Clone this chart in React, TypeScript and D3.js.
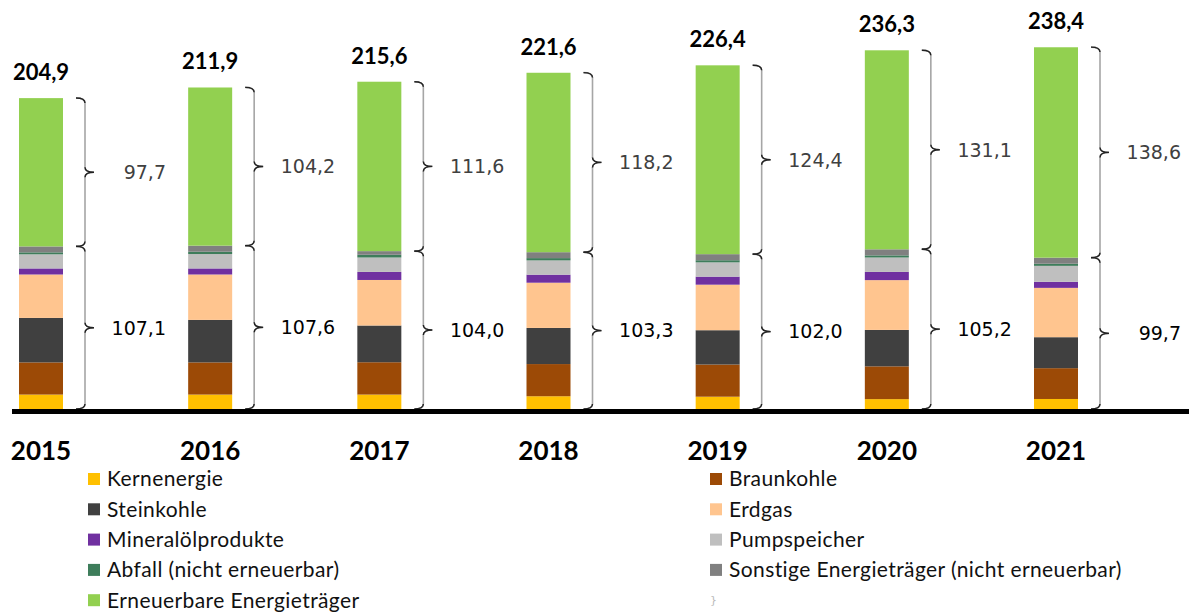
import React from "react";
import * as d3 from "d3";

const years = ["2015", "2016", "2017", "2018", "2019", "2020", "2021"];

const sources = [
  "Kernenergie",
  "Braunkohle",
  "Steinkohle",
  "Erdgas",
  "Mineralölprodukte",
  "Pumpspeicher",
  "Abfall (nicht erneuerbar)",
  "Sonstige Energieträger (nicht erneuerbar)",
  "Erneuerbare Energieträger",
];

const colors = ["#FFC000", "#9C4A06", "#404040", "#FFC58F", "#7030A0", "#BFBFBF", "#3E7D5B", "#808080", "#92D050"];

// GW per year, bottom to top
const kernenergie = [9.5, 9.5, 9.5, 8.4, 8.1, 6.5, 6.6];
const braunkohle = [21.2, 21.2, 21.3, 21.2, 21.2, 21.6, 20.3];
const steinkohle = [29.3, 28.0, 24.2, 23.8, 22.6, 24.0, 20.4];
const erdgas = [28.6, 29.9, 30.0, 29.8, 30.0, 32.8, 32.5];
const mineraloel = [4.0, 4.0, 5.3, 5.3, 5.3, 5.4, 4.0];
const pumpspeicher = [9.3, 9.5, 9.5, 9.4, 9.4, 9.5, 10.5];
const abfall = [1.3, 1.5, 1.8, 1.5, 1.4, 1.4, 1.4];
const sonstige = [3.9, 4.0, 2.4, 3.9, 4.0, 4.0, 4.0];
const erneuerbare = [97.7, 104.2, 111.6, 118.2, 124.4, 131.1, 138.6];

const konventionell = [107.1, 107.6, 104.0, 103.3, 102.0, 105.2, 99.7];
const gesamt = [204.9, 211.9, 215.6, 221.6, 226.4, 236.3, 238.4];

const series = [kernenergie, braunkohle, steinkohle, erdgas, mineraloel, pumpspeicher, abfall, sonstige, erneuerbare];

const fmt = (v: number) => v.toFixed(1).replace(".", ",");

const width = 1189;
const height = 612;
const barW = 44;
const r = 5;
const h = 9;

// right-facing curly brace from yt to yb, tip at the middle
function bracePath(x: number, yt: number, yb: number) {
  const ym = (yt + yb) / 2;
  return `M${x - h},${yt} Q${x},${yt} ${x},${yt + r} L${x},${ym - r} Q${x},${ym} ${x + h},${ym} Q${x},${ym} ${x},${ym + r} L${x},${yb - r} Q${x},${yb} ${x - h},${yb}`;
}

// the curly bits only, drawn darker on top
function braceTips(x: number, yt: number, yb: number) {
  const ym = (yt + yb) / 2;
  return `M${x - h},${yt} Q${x},${yt} ${x},${yt + r} M${x},${ym - r} Q${x},${ym} ${x + h},${ym} Q${x},${ym} ${x},${ym + r} M${x},${yb - r} Q${x},${yb} ${x - h},${yb}`;
}

export default function App() {
  const x = d3.scalePoint<string>().domain(years).range([41, 1056]);
  const y = d3.scaleLinear().domain([0, 250]).range([409, 29.5]);

  const rows = years.map((yr, i) => {
    const o: any = { year: yr };
    sources.forEach((s, k) => (o[s] = series[k][i]));
    return o;
  });
  const stacked = d3.stack<any>().keys(sources)(rows);

  return (
    <svg width={width} height={height} style={{ position: "absolute", left: 0, top: 0, background: "#fff" }}>
      {stacked.map((layer, k) => (
        <g key={sources[k]} fill={colors[k]}>
          {layer.map((d, i) => (
            <rect
              key={years[i]}
              x={x(years[i])! - barW / 2}
              y={y(d[1])}
              width={barW}
              height={y(d[0]) - y(d[1])}
            />
          ))}
        </g>
      ))}

      {years.map((yr, i) => {
        const bx = x(yr)! + barW / 2 + 22;
        const yTop = y(gesamt[i]);
        const ySplit = y(konventionell[i]);
        const yBase = y(0);
        return (
          <g key={yr}>
            <path d={bracePath(bx, yTop, ySplit)} fill="none" stroke="#a6a6a6" strokeWidth={1.6} />
            <path d={bracePath(bx, ySplit, yBase)} fill="none" stroke="#a6a6a6" strokeWidth={1.6} />
            <path d={braceTips(bx, yTop, ySplit)} fill="none" stroke="#222" strokeWidth={1.4} />
            <path d={braceTips(bx, ySplit, yBase)} fill="none" stroke="#222" strokeWidth={1.4} />
            <text
              x={bx + 81}
              y={(yTop + ySplit) / 2}
              dy="0.36em"
              textAnchor="end"
              fontFamily="DejaVu Sans"
              fontSize={19}
              fill="#404040"
            >
              {fmt(erneuerbare[i])}
            </text>
            <text
              x={bx + 81}
              y={(ySplit + yBase) / 2}
              dy="0.36em"
              textAnchor="end"
              fontFamily="DejaVu Sans"
              fontSize={19}
              fill="#000"
            >
              {fmt(konventionell[i])}
            </text>
            <text
              x={x(yr)}
              y={yTop - 18}
              textAnchor="middle"
              fontFamily="Lato"
              fontWeight="bold"
              fontSize={22}
              fill="#000"
            >
              {fmt(gesamt[i])}
            </text>
            <text
              x={x(yr)}
              y={460}
              textAnchor="middle"
              fontFamily="Lato"
              fontWeight="bold"
              fontSize={26}
              fill="#000"
            >
              {yr}
            </text>
          </g>
        );
      })}

      <rect x={12} y={y(0)} width={width - 12} height={5} fill="#000" />

      {sources.map((s, k) => {
        const col = k % 2;
        const row = Math.floor(k / 2);
        const lx = col === 0 ? 88 : 710;
        const ly = 479 + row * 30.3;
        return (
          <g key={s}>
            <rect x={lx} y={ly - 6} width={12} height={12} fill={colors[k]} />
            <text x={lx + 19} y={ly} dy="0.35em" fontFamily="Lato" fontSize={21} letterSpacing={0.4} fill="#111">
              {s}
            </text>
          </g>
        );
      })}
      <text x={710} y={600} dy="0.35em" fontFamily="DejaVu Sans" fontSize={11} fill="#bbb">
        {"}"}
      </text>
    </svg>
  );
}
